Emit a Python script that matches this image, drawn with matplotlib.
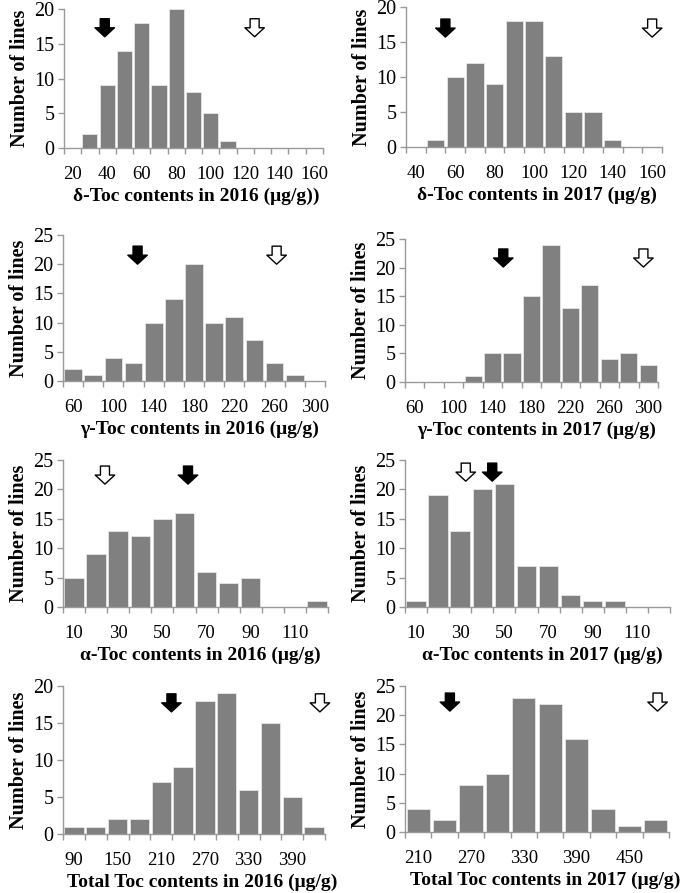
import matplotlib.pyplot as plt

plt.rcParams['font.family'] = ['Liberation Serif', 'DejaVu Serif']

# bin centres (category labels) and counts
d16_bins = [20, 30, 40, 50, 60, 70, 80, 90, 100, 110, 120, 130, 140, 150, 160]
d16_counts = [0, 2, 9, 14, 18, 9, 20, 8, 5, 1, 0, 0, 0, 0, 0]
d17_bins = [40, 50, 60, 70, 80, 90, 100, 110, 120, 130, 140, 150, 160]
d17_counts = [0, 1, 10, 12, 9, 18, 18, 13, 5, 5, 1, 0, 0]
g16_bins = [60, 80, 100, 120, 140, 160, 180, 200, 220, 240, 260, 280, 300]
g16_counts = [2, 1, 4, 3, 10, 14, 20, 10, 11, 7, 3, 1, 0]
g17_bins = [60, 80, 100, 120, 140, 160, 180, 200, 220, 240, 260, 280, 300]
g17_counts = [0, 0, 0, 1, 5, 5, 15, 24, 13, 17, 4, 5, 3]
a16_bins = [10, 20, 30, 40, 50, 60, 70, 80, 90, 100, 110, 120]
a16_counts = [5, 9, 13, 12, 15, 16, 6, 4, 5, 0, 0, 1]
a17_bins = [10, 20, 30, 40, 50, 60, 70, 80, 90, 100, 110, 120]
a17_counts = [1, 19, 13, 20, 21, 7, 7, 2, 1, 1, 0, 0]
t16_bins = [90, 120, 150, 180, 210, 240, 270, 300, 330, 360, 390, 420]
t16_counts = [1, 1, 2, 2, 7, 9, 18, 19, 6, 15, 5, 1]
t17_bins = [210, 240, 270, 300, 330, 360, 390, 420, 450, 480]
t17_counts = [4, 2, 8, 10, 23, 22, 16, 4, 1, 2]

# arrow markers (x value, tip height, fill): black = filled, white = open
d16_arrows = [(38.6, 16.0, 'black'), (125.4, 16.0, 'white')]
d17_arrows = [(55, 15.7, 'black'), (160, 15.7, 'white')]
g16_arrows = [(124, 20.0, 'black'), (262, 20.0, 'white')]
g17_arrows = [(151, 20.1, 'black'), (295, 20.1, 'white')]
a16_arrows = [(24, 20.9, 'white'), (61.6, 20.9, 'black')]
a17_arrows = [(32.5, 21.4, 'white'), (44.5, 21.4, 'black')]
t16_arrows = [(224, 16.5, 'black'), (428, 16.5, 'white')]
t17_arrows = [(246, 20.7, 'black'), (482, 20.7, 'white')]

panels = [
    (d16_bins, d16_counts, d16_arrows, 20, 'δ-Toc contents in 2016 (μg/g))', (64, 323, 9, 148), 0.51),
    (d17_bins, d17_counts, d17_arrows, 20, 'δ-Toc contents in 2017 (μg/g)', (406, 662, 7, 147), 0.51),
    (g16_bins, g16_counts, g16_arrows, 25, 'γ-Toc contents in 2016 (μg/g)', (63, 325, 235, 381), 0.52),
    (g17_bins, g17_counts, g17_arrows, 25, 'γ-Toc contents in 2017 (μg/g)', (405, 658, 239, 382), 0.52),
    (a16_bins, a16_counts, a16_arrows, 25, 'α-Toc contents in 2016 (μg/g)', (63, 328, 460, 607), 0.52),
    (a17_bins, a17_counts, a17_arrows, 25, 'α-Toc contents in 2017 (μg/g)', (405, 670, 460, 607), 0.52),
    (t16_bins, t16_counts, t16_arrows, 20, 'Total Toc contents in 2016 (μg/g)', (63, 325, 686, 834), 0.53),
    (t17_bins, t17_counts, t17_arrows, 25, 'Total Toc contents in 2017 (μg/g)', (405, 669, 686, 832), 0.53),
]

W, H = 685, 893
fig = plt.figure(figsize=(W / 100, H / 100), dpi=100)

for bins, counts, arrows, ymax, xlabel, (l, r, t, b), lx in panels:
    ax = fig.add_axes([l / W, 1 - b / H, (r - l) / W, (b - t) / H])
    step = bins[1] - bins[0]
    ax.bar(bins, counts, width=step * 0.88, color='#808080',
           edgecolor='#e6e6e6', linewidth=0.6, zorder=2)
    ax.set_xlim(bins[0] - step / 2, bins[-1] + step / 2)
    ax.set_ylim(0, ymax)
    ax.set_yticks(range(0, ymax + 1, 5))
    ax.set_xticks(bins[::2])
    ax.set_xticks([v - step / 2 for v in bins] + [bins[-1] + step / 2], minor=True)
    ax.tick_params(axis='x', which='major', length=0, pad=13, labelsize=13.5)
    ax.tick_params(axis='x', which='minor', length=4, width=1, color='#999999', direction='out')
    ax.tick_params(axis='y', which='major', length=4, width=1, color='#999999', pad=3, labelsize=14.5)
    for side in ['top', 'right']:
        ax.spines[side].set_visible(False)
    for side in ['left', 'bottom']:
        ax.spines[side].set_color('#999999')
        ax.spines[side].set_linewidth(1)
    ax.set_xlabel(xlabel, fontsize=14, fontweight='bold', labelpad=3)
    ax.xaxis.label.set_x(lx)
    ax.set_ylabel('Number of lines', fontsize=14.5, fontweight='bold', labelpad=3)
    for x, y, c in arrows:
        ax.annotate('', xy=(x, y), xytext=(0, 13), textcoords='offset points',
                    arrowprops=dict(arrowstyle='simple,head_length=0.65,head_width=1.4,tail_width=0.65',
                                    fc=c, ec='black', lw=1, shrinkA=0, shrinkB=0,
                                    mutation_scale=10), zorder=5)

fig.savefig('out.png', dpi=100)
